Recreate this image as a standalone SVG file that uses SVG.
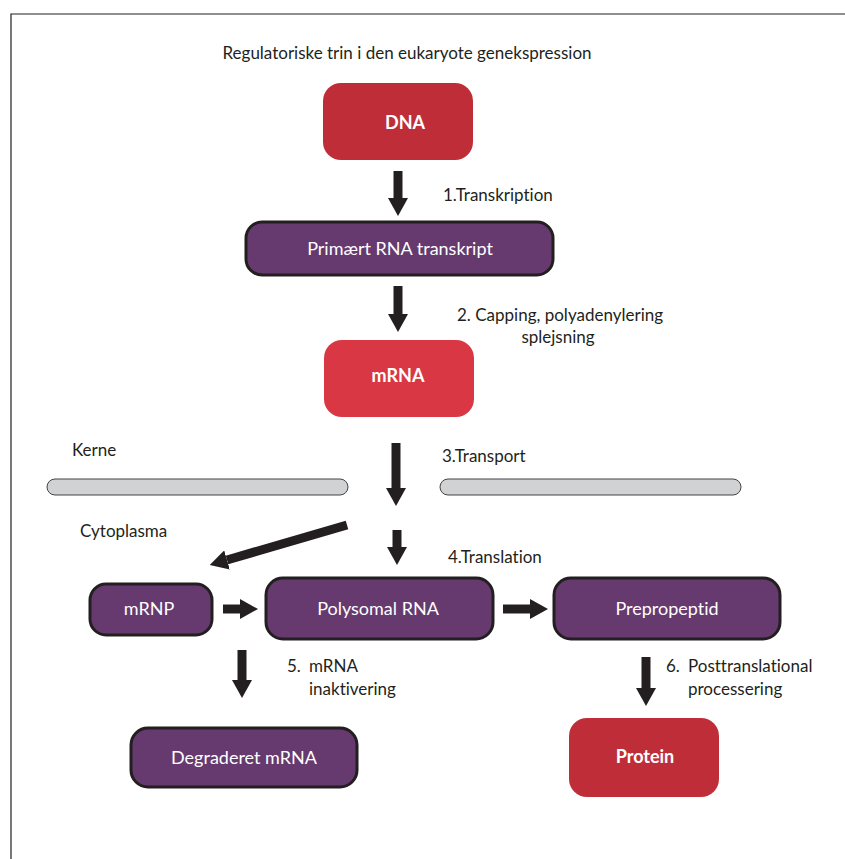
<svg xmlns="http://www.w3.org/2000/svg" width="845" height="859" viewBox="0 0 845 859">
<style>
text{font-variant-ligatures:none}
.lbl{font-family:Lato,"Liberation Sans",sans-serif;font-size:17px;fill:#231f20}
.nt{font-family:Lato,"Liberation Sans",sans-serif;font-size:18px;fill:#ffffff;text-anchor:middle}
.bt{font-family:Lato,"Liberation Sans",sans-serif;font-size:18px;font-weight:bold;fill:#ffffff;text-anchor:middle}
.purple{fill:#663a6e;stroke:#231f20;stroke-width:3}
.red{fill:#bf2e38}
.red2{fill:#d93744}
.mem{fill:#d1d2d4;stroke:#444;stroke-width:1}
.arr{stroke:#231f20;stroke-width:9;fill:none;marker-end:url(#ah)}
</style>
<defs>
<marker id="ah" markerUnits="userSpaceOnUse" markerWidth="18" markerHeight="20" viewBox="0 0 18 20" refX="0" refY="10" orient="auto">
<path d="M0,0 L18,10 L0,20 z" fill="#231f20"/>
</marker>
</defs>
<rect width="845" height="859" fill="#ffffff"/>
<g id="frame" fill="none" stroke="#231f20" stroke-width="1.2">
<path d="M11,859 L11,14 L845,14"/>
</g>
<text class="lbl" x="407" y="59" text-anchor="middle">Regulatoriske trin i den eukaryote genekspression</text>

<g id="membrane">
<rect class="mem" x="47" y="479" width="301" height="16" rx="8"/>
<rect class="mem" x="440" y="479" width="301" height="16" rx="8"/>
</g>
<text class="lbl" x="72" y="456">Kerne</text>
<text class="lbl" x="80" y="537">Cytoplasma</text>

<g id="dna"><rect class="red" x="323" y="83" width="150" height="77" rx="18"/><text class="bt" x="405" y="129">DNA</text></g>
<g id="primary"><rect class="purple" x="246" y="222" width="307" height="53" rx="16"/><text class="nt" x="400" y="255">Primært RNA transkript</text></g>
<g id="mrna"><rect class="red2" x="324" y="340" width="150" height="77" rx="18"/><text class="bt" x="398" y="382">mRNA</text></g>
<g id="mrnp"><rect class="purple" x="90" y="584" width="122" height="51" rx="16"/><text class="nt" x="149" y="615">mRNP</text></g>
<g id="polysomal"><rect class="purple" x="266" y="578" width="227" height="61" rx="17"/><text class="nt" x="378" y="615">Polysomal RNA</text></g>
<g id="prepropeptid"><rect class="purple" x="554" y="578" width="226" height="61" rx="17"/><text class="nt" x="667" y="615">Prepropeptid</text></g>
<g id="degraderet"><rect class="purple" x="131" y="728" width="226" height="59" rx="17"/><text class="nt" x="244" y="764">Degraderet mRNA</text></g>
<g id="protein"><rect class="red" x="569" y="718" width="150" height="79" rx="18"/><text class="bt" x="645" y="763">Protein</text></g>

<g id="connectors">
<line class="arr" x1="398" y1="171" x2="398" y2="198"/>
<line class="arr" x1="398" y1="286" x2="398" y2="314"/>
<line class="arr" x1="396" y1="443" x2="396" y2="488"/>
<line class="arr" x1="397" y1="530" x2="397" y2="547"/>
<line class="arr" x1="347" y1="525" x2="227" y2="560"/>
<line class="arr" x1="223" y1="609" x2="240" y2="609"/>
<line class="arr" x1="503" y1="609" x2="530" y2="609"/>
<line class="arr" x1="242" y1="650" x2="242" y2="680"/>
<line class="arr" x1="646" y1="657" x2="646" y2="688"/>
</g>

<text class="lbl" x="443" y="201">1.Transkription</text>
<text class="lbl" x="457" y="321">2. Capping, polyadenylering</text>
<text class="lbl" x="558" y="343" text-anchor="middle">splejsning</text>
<text class="lbl" x="442" y="462">3.Transport</text>
<text class="lbl" x="448" y="563">4.Translation</text>
<text class="lbl" x="287" y="672">5.<tspan x="309">mRNA</tspan></text>
<text class="lbl" x="309" y="695">inaktivering</text>
<text class="lbl" x="666" y="672">6.<tspan x="688">Posttranslational</tspan></text>
<text class="lbl" x="688" y="695">processering</text>
</svg>
